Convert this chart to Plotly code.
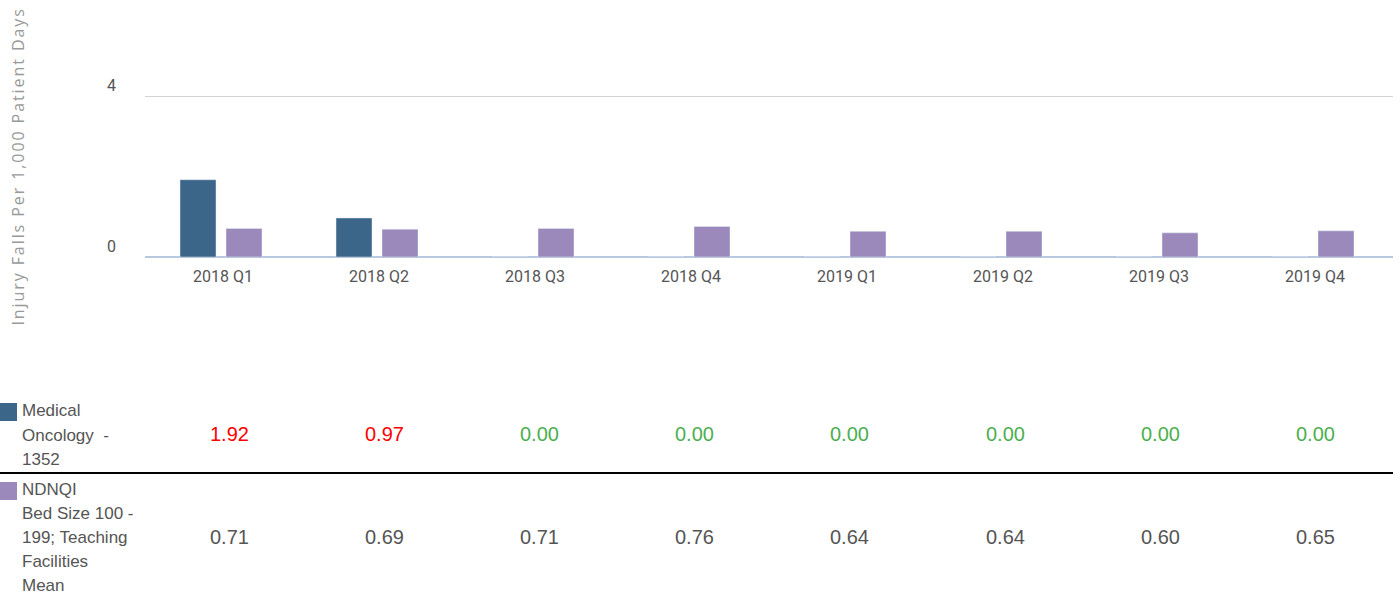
import plotly.graph_objects as go

categories = ["2018 Q1", "2018 Q2", "2018 Q3", "2018 Q4", "2019 Q1", "2019 Q2", "2019 Q3", "2019 Q4"]
unit_values = [1.92, 0.97, 0.00, 0.00, 0.00, 0.00, 0.00, 0.00]
ndnqi_values = [0.71, 0.69, 0.71, 0.76, 0.64, 0.64, 0.60, 0.65]
unit_label_lines = ["Medical", "Oncology  -", "1352"]
ndnqi_label_lines = ["NDNQI", "Bed Size 100 -", "199; Teaching", "Facilities", "Mean"]
y_tickvals = [0, 4]
y_title = "Injury Falls Per 1,000 Patient Days"

W, H = 1400, 599
L, R = 145, 1393
PW = R - L
ZERO_PX = 257
PX_PER_UNIT = (257 - 96) / 4.0
CAT_PX = PW / len(categories)

def px_x(p):
    return (p - L) / PW

def px_y(p):
    return (H - p) / H

DARK = "#3b6589"
PURPLE = "#9b89bb"
GRAY = "#555555"
TABLE_FONT = "Liberation Sans, Arial, sans-serif"

bar_w = 36 / CAT_PX
fig = go.Figure()
fig.add_trace(go.Bar(x=categories, y=unit_values, marker_color=DARK, name="unit", showlegend=False,
                     width=bar_w, offset=-43 / CAT_PX))
fig.add_trace(go.Bar(x=categories, y=ndnqi_values, marker_color=PURPLE, name="ndnqi", showlegend=False,
                     width=bar_w, offset=3 / CAT_PX))

fig.update_layout(
    width=W, height=H,
    margin=dict(l=L, r=W - R, t=0, b=0, autoexpand=False),
    plot_bgcolor="white", paper_bgcolor="white",
    barmode="group",
    xaxis=dict(
        showgrid=False, zeroline=False, showline=False, ticks="",
        tickfont=dict(family="Roboto", size=16, color=GRAY),
        ticklabelstandoff=8, automargin=False,
    ),
    yaxis=dict(
        domain=[px_y(ZERO_PX), 1],
        range=[0, ZERO_PX / PX_PER_UNIT],
        tickvals=y_tickvals, ticktext=[str(v) for v in y_tickvals],
        showgrid=True, gridcolor="#d3d3d3", gridwidth=1,
        zeroline=True, zerolinecolor="#b8c8de", zerolinewidth=2,
        showline=False, ticks="",
        tickfont=dict(family="Roboto", size=16, color=GRAY),
        ticklabelstandoff=28, ticklabelshift=-11, automargin=False,
    ),
)

annotations = []
annotations.append(dict(
    text=y_title, textangle=-90, xref="paper", yref="paper",
    x=px_x(18), y=px_y(167), xanchor="center", yanchor="middle",
    showarrow=False, font=dict(family="Open Sans", size=16, color="#999999"),
))

for i, line in enumerate(unit_label_lines):
    annotations.append(dict(text=line, xref="paper", yref="paper", align="left",
                            x=px_x(20), y=px_y(411 + 24 * i), xanchor="left", yanchor="middle",
                            showarrow=False, font=dict(family=TABLE_FONT, size=17, color=GRAY)))
for i, line in enumerate(ndnqi_label_lines):
    annotations.append(dict(text=line, xref="paper", yref="paper", align="left",
                            x=px_x(20), y=px_y(489 + 24 * i), xanchor="left", yanchor="middle",
                            showarrow=False, font=dict(family=TABLE_FONT, size=17, color=GRAY)))

for i, (v, nv) in enumerate(zip(unit_values, ndnqi_values)):
    col = "#ff0000" if v > nv else "#4caf50"
    cx = px_x(229 + 155.2 * i)
    annotations.append(dict(text=f"{v:.2f}", xref="paper", yref="paper", x=cx, y=px_y(434),
                            xanchor="center", yanchor="middle", showarrow=False,
                            font=dict(family=TABLE_FONT, size=20, color=col)))
    annotations.append(dict(text=f"{nv:.2f}", xref="paper", yref="paper", x=cx, y=px_y(537),
                            xanchor="center", yanchor="middle", showarrow=False,
                            font=dict(family=TABLE_FONT, size=20, color=GRAY)))

shapes = [
    dict(type="rect", xref="paper", yref="paper", x0=px_x(0), x1=px_x(17), y0=px_y(421), y1=px_y(403),
         fillcolor=DARK, line=dict(width=0)),
    dict(type="rect", xref="paper", yref="paper", x0=px_x(0), x1=px_x(17), y0=px_y(500), y1=px_y(482),
         fillcolor=PURPLE, line=dict(width=0)),
    dict(type="line", xref="paper", yref="paper", x0=px_x(0), x1=px_x(1393), y0=px_y(473), y1=px_y(473),
         line=dict(color="black", width=2)),
]

fig.update_layout(annotations=annotations, shapes=shapes)

post = (
    "document.body.style.margin='0';document.body.style.overflow='hidden';"
    "document.querySelectorAll('.annotation-text').forEach(function(e){"
    "if(e.textContent==='" + y_title + "'){e.style.letterSpacing='1.92px';}});"
)
fig.write_html("out.html", config={"displayModeBar": False}, post_script=post)
